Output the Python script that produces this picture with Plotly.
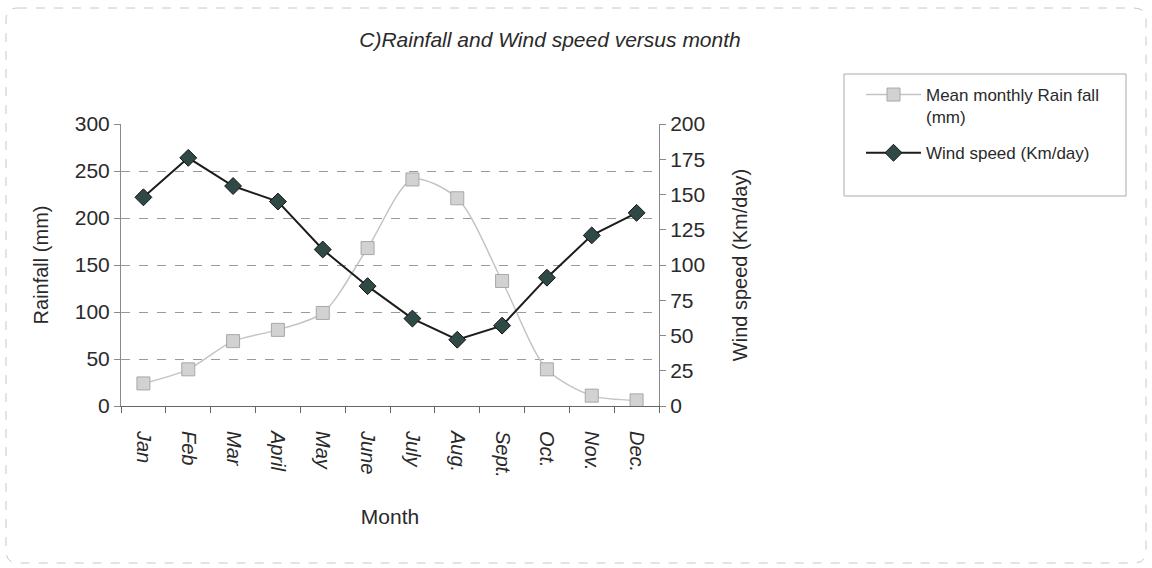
import plotly.graph_objects as go

months = ["Jan", "Feb", "Mar", "April", "May", "June", "July", "Aug.", "Sept.", "Oct.", "Nov.", "Dec."]
rainfall_mm = [24, 39, 69, 81, 99, 168, 241, 221, 133, 39, 11, 6]
wind_km_day = [148, 176, 156, 145, 111, 85, 62, 47, 57, 91, 121, 137]

rain_name = "Mean monthly Rain fall<br>(mm)"
wind_name = "Wind speed (Km/day)"

FONT = "Liberation Sans, Arial, sans-serif"
TXT = "#2a2a2a"

# plot-area geometry in pixels
W, H = 1152, 568
L, R, T, B = 121, 659, 124, 406


def px_x(x):
    return (x - L) / (R - L)


def px_y(y):
    return (B - y) / (B - T)


fig = go.Figure()

fig.add_trace(go.Scatter(
    x=months, y=rainfall_mm, name=rain_name, mode="lines+markers",
    legendgroup="rain",
    line=dict(color="#c4c4c4", width=1.5, shape="spline", smoothing=0.8),
    marker=dict(symbol="square", size=13, color="#d2d2d2",
                line=dict(color="#a8a8a8", width=1)),
    yaxis="y",
))

fig.add_trace(go.Scatter(
    x=months, y=wind_km_day, name=wind_name, mode="lines+markers",
    legendgroup="wind",
    line=dict(color="#1c1c1c", width=2),
    marker=dict(symbol="diamond", size=13, color="#2f4a46",
                line=dict(color="#151515", width=1)),
    yaxis="y2",
))

# outer dashed frame with rounded corners
x0, x1 = px_x(6), px_x(1146)
y0, y1 = px_y(563), px_y(8)
rx, ry = 12 / (R - L), 12 / (B - T)
frame_path = (
    f"M {x0 + rx},{y1} L {x1 - rx},{y1} Q {x1},{y1} {x1},{y1 - ry} "
    f"L {x1},{y0 + ry} Q {x1},{y0} {x1 - rx},{y0} "
    f"L {x0 + rx},{y0} Q {x0},{y0} {x0},{y0 + ry} "
    f"L {x0},{y1 - ry} Q {x0},{y1} {x0 + rx},{y1} Z"
)

shapes = [
    dict(type="path", xref="paper", yref="paper", path=frame_path,
         line=dict(color="#c8c8c8", width=1, dash="dash"), layer="below"),
    # legend box
    dict(type="rect", xref="paper", yref="paper",
         x0=px_x(844), x1=px_x(1126), y0=px_y(196), y1=px_y(74),
         line=dict(color="#aaaaaa", width=1), fillcolor="rgba(0,0,0,0)"),
]

fig.update_layout(
    width=W, height=H,
    margin=dict(l=L, r=W - R, t=T, b=H - B),
    paper_bgcolor="white", plot_bgcolor="white",
    font=dict(family=FONT, color=TXT),
    title=dict(text="C)Rainfall and Wind speed versus month",
               font=dict(family=FONT, size=21, style="italic", color=TXT),
               xref="paper", x=px_x(550), xanchor="center",
               yref="container", y=1 - 40 / H, yanchor="middle"),
    showlegend=True,
    legend=dict(x=px_x(861), y=px_y(77), xanchor="left", yanchor="top",
                bgcolor="rgba(0,0,0,0)", borderwidth=0, valign="top",
                traceorder="grouped",
                font=dict(family=FONT, size=17, color=TXT),
                tracegroupgap=11, itemwidth=55),
    xaxis=dict(
        type="category", categoryorder="array", categoryarray=months,
        range=[-0.5, 11.5],
        showgrid=False, showline=True, linecolor="#666666", linewidth=1,
        ticks="outside", tickson="boundaries", ticklen=6, tickcolor="#666666",
        tickangle=90, ticklabelstandoff=20,
        tickfont=dict(family=FONT, size=20, style="italic", color=TXT),
        title=dict(text="Month", font=dict(family=FONT, size=21, color=TXT),
                   standoff=32),
        zeroline=False,
    ),
    yaxis=dict(
        range=[0, 300], dtick=50,
        showgrid=True, gridcolor="#9a9a9a", griddash="dash", gridwidth=1,
        showline=True, linecolor="#8a8a8a", linewidth=1,
        ticks="outside", ticklen=6, tickcolor="#8a8a8a",
        tickfont=dict(family=FONT, size=21, color=TXT),
        title=dict(text="Rainfall (mm)", font=dict(family=FONT, size=20, color=TXT),
                   standoff=20),
        zeroline=False,
    ),
    yaxis2=dict(
        range=[0, 200], dtick=25, overlaying="y", side="right",
        showgrid=False, showline=True, linecolor="#8a8a8a", linewidth=1,
        ticks="outside", ticklen=6, tickcolor="#8a8a8a",
        tickfont=dict(family=FONT, size=21, color=TXT),
        title=dict(text="Wind speed (Km/day)", font=dict(family=FONT, size=20, color=TXT),
                   standoff=28),
        zeroline=False,
    ),
    shapes=shapes,
)

fig.write_html("out.html")
